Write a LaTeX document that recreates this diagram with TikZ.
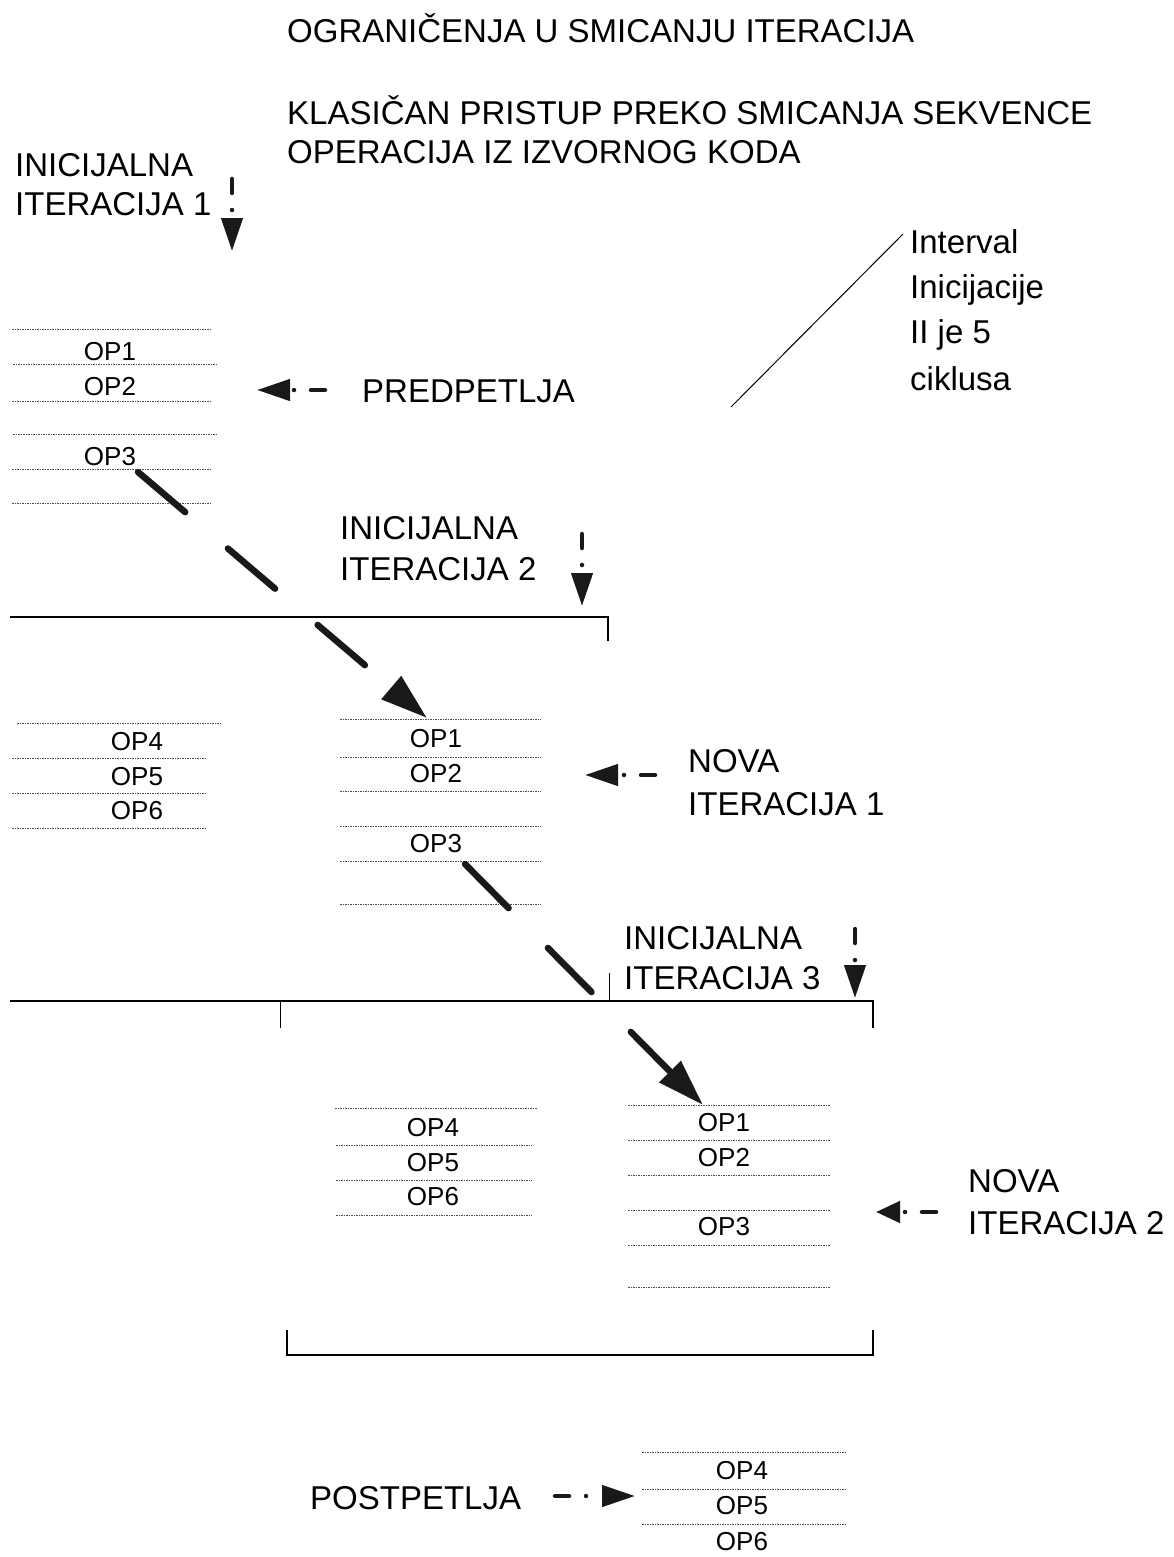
\documentclass[tikz,border=0pt]{standalone}
\usepackage{fontspec}
\setmainfont{Liberation Sans}
\usetikzlibrary{arrows.meta}
\begin{document}
\begin{tikzpicture}[x=1pt,y=-1pt,
  big/.style={font=\fontsize{33}{38}\selectfont, inner sep=0pt, anchor=base west},
  op/.style={font=\fontsize{26}{30}\selectfont, inner sep=0pt, anchor=base},
  opline/.style={draw=black!70, line width=0.9pt, dash pattern=on 1.5pt off 1pt},
  frameline/.style={draw=black, line width=1.6pt},
  bigarrow/.style={draw=black!90, line width=6.5pt, line cap=round, dash pattern=on 62pt off 56pt, -{Triangle[length=47pt,width=29pt]}},
  smallarrow/.style={draw=black!90, line width=4.5pt, line cap=round, dash pattern=on 14pt off 17pt on 0pt off 60pt, -{Triangle[length=33pt,width=21pt]}},
  shortarrow/.style={draw=black!90, line width=4.5pt, line cap=round, dash pattern=on 14pt off 17pt on 0pt off 60pt, -{Triangle[length=24pt,width=21pt]}},
]
\useasboundingbox (0,0) rectangle (1174,1557);

% titles
\node[big] (t1) at (287,43) {OGRANIČENJA U SMICANJU ITERACIJA};
\node[big] (t2) at (287,125) {KLASIČAN PRISTUP PREKO SMICANJA SEKVENCE};
\node[big] (t3) at (287,164) {OPERACIJA IZ IZVORNOG KODA};

% interval label
\node[big] (iv1) at (910,253) {Interval};
\node[big] (iv2) at (910,298) {Inicijacije};
\node[big] (iv3) at (910,343) {II je 5};
\node[big] (iv4) at (910,390) {ciklusa};
\coordinate (ivA) at (731,407);
\coordinate (ivB) at (903,234);
\draw[line width=1pt] (ivA) -- (ivB);

% labels
\node[big] (ini1a) at (15,177) {INICIJALNA};
\node[big] (ini1b) at (15,215) {ITERACIJA 1};
\node[big] (pred) at (362,402) {PREDPETLJA};
\node[big] (ini2a) at (340,539) {INICIJALNA};
\node[big] (ini2b) at (340,580) {ITERACIJA 2};
\node[big] (nova1a) at (688,772) {NOVA};
\node[big] (nova1b) at (688,815) {ITERACIJA 1};
\node[big] (ini3a) at (624,949) {INICIJALNA};
\node[big] (ini3b) at (624,989) {ITERACIJA 3};
\node[big] (nova2a) at (968,1192) {NOVA};
\node[big] (nova2b) at (968,1234) {ITERACIJA 2};
\node[big] (post) at (310,1509) {POSTPETLJA};

% block A (iteration 1)
\draw[opline] (12,329) -- (212,329);
\draw[opline] (13,364) -- (217,364);
\draw[opline] (12,401) -- (212,401);
\draw[opline] (13,434) -- (217,434);
\draw[opline] (12,469) -- (212,469);
\draw[opline] (12,503) -- (212,503);
\node[op] (a1) at (110,360) {OP1};
\node[op] (a2) at (110,395) {OP2};
\node[op] (a3) at (110,465) {OP3};

% block C (OP4-6 left)
\draw[opline] (17,723) -- (220,723);
\draw[opline] (12,758) -- (207,758);
\draw[opline] (12,793) -- (207,793);
\draw[opline] (12,828) -- (207,828);
\node[op] (c4) at (137,750) {OP4};
\node[op] (c5) at (137,785) {OP5};
\node[op] (c6) at (137,819) {OP6};

% block B (new iteration 1)
\draw[opline] (340,719) -- (541,719);
\draw[opline] (340,757) -- (541,757);
\draw[opline] (340,791) -- (541,791);
\draw[opline] (340,826) -- (541,826);
\draw[opline] (340,861) -- (541,861);
\draw[opline] (340,904) -- (541,904);
\node[op] (b1) at (436,747) {OP1};
\node[op] (b2) at (436,782) {OP2};
\node[op] (b3) at (436,852) {OP3};

% block D (OP4-6 middle)
\draw[opline] (335,1108) -- (537,1108);
\draw[opline] (336,1145) -- (532,1145);
\draw[opline] (336,1180) -- (532,1180);
\draw[opline] (336,1215) -- (532,1215);
\node[op] (d4) at (433,1136) {OP4};
\node[op] (d5) at (433,1171) {OP5};
\node[op] (d6) at (433,1205) {OP6};

% block E (new iteration 2)
\draw[opline] (628,1105) -- (830,1105);
\draw[opline] (628,1140) -- (830,1140);
\draw[opline] (628,1175) -- (830,1175);
\draw[opline] (628,1210) -- (830,1210);
\draw[opline] (628,1245) -- (830,1245);
\draw[opline] (628,1287) -- (830,1287);
\node[op] (e1) at (724,1131) {OP1};
\node[op] (e2) at (724,1166) {OP2};
\node[op] (e3) at (724,1235) {OP3};

% block F (postpetlja)
\draw[opline] (642,1452) -- (845,1452);
\draw[opline] (642,1489) -- (845,1489);
\draw[opline] (642,1524) -- (845,1524);
\node[op] (f4) at (742,1479) {OP4};
\node[op] (f5) at (742,1514) {OP5};
\node[op] (f6) at (742,1550) {OP6};

% frames
\draw[frameline] (10,617) -- (608,617) -- (608,641);
\draw[frameline] (10,1001) -- (873,1001) -- (873,1028);
\draw[line width=1pt] (280,1001) -- (280,1028);
\draw[line width=1pt] (609,973) -- (609,1001);
\draw[frameline] (287,1330) -- (287,1355) -- (873,1355) -- (873,1330);

% small dash-dot arrows
\coordinate (s1a) at (232,179); \coordinate (s1b) at (232,251);
\draw[smallarrow] (s1a) -- (s1b);
\coordinate (s2a) at (325,390); \coordinate (s2b) at (257,390);
\draw[smallarrow] (s2a) -- (s2b);
\coordinate (s3a) at (582,534); \coordinate (s3b) at (582,606);
\draw[smallarrow] (s3a) -- (s3b);
\coordinate (s4a) at (655,775); \coordinate (s4b) at (585,775);
\draw[smallarrow] (s4a) -- (s4b);
\coordinate (s5a) at (855,929); \coordinate (s5b) at (855,998);
\draw[smallarrow] (s5a) -- (s5b);
\coordinate (s6a) at (936,1212); \coordinate (s6b) at (876,1212);
\draw[shortarrow] (s6a) -- (s6b);
\coordinate (s7a) at (555,1496); \coordinate (s7b) at (635,1496);
\draw[smallarrow] (s7a) -- (s7b);

% big dashed diagonal arrows
\coordinate (g1a) at (138,472); \coordinate (g1b) at (427,718);
\draw[bigarrow] (g1a) -- (g1b);
\coordinate (g2a) at (465,864); \coordinate (g2b) at (703,1105);
\draw[bigarrow] (g2a) -- (g2b);
\end{tikzpicture}
\end{document}
